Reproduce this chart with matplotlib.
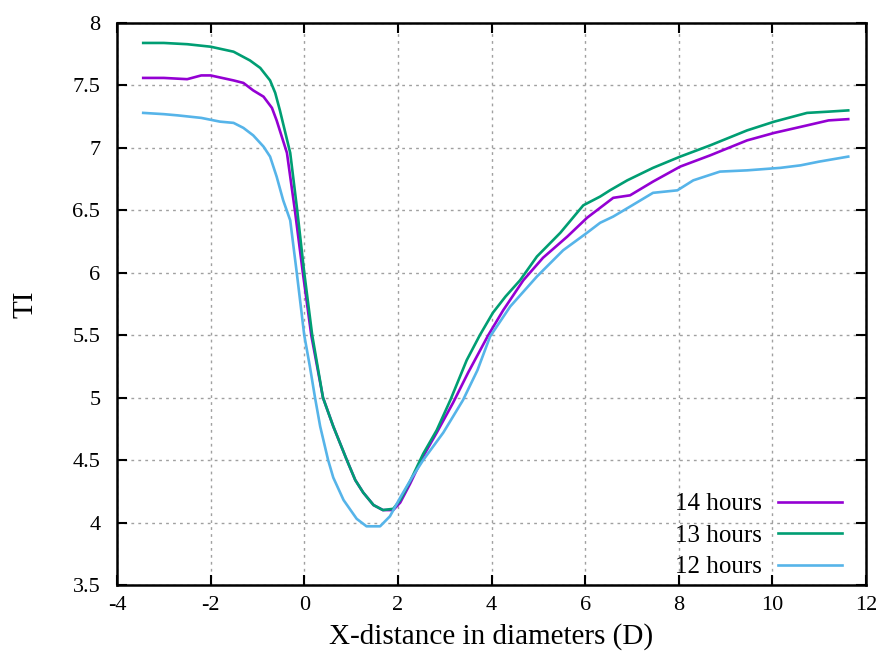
import matplotlib.pyplot as plt

# dados
x14 = [-3.44, -3.0, -2.5, -2.2, -2.0, -1.51, -1.30, -1.09, -0.87, -0.69, -0.59, -0.48, -0.37,
       -0.2, -0.03, 0.15, 0.4, 0.62, 0.91, 1.09, 1.26, 1.48, 1.68, 1.9, 2.05, 2.26, 2.54, 2.83,
       3.18, 3.5, 3.93, 4.25, 4.68, 5.1, 5.62, 6.04, 6.32, 6.6, 6.96, 7.45, 8.03, 8.67, 9.46,
       10.04, 10.74, 11.2, 11.62]
y14 = [7.56, 7.56, 7.55, 7.58, 7.58, 7.54, 7.52, 7.46, 7.41, 7.32, 7.22, 7.09, 6.96,
       6.5, 6.0, 5.5, 5.0, 4.77, 4.5, 4.34, 4.24, 4.14, 4.10, 4.10, 4.16, 4.31, 4.53, 4.72,
       4.96, 5.2, 5.5, 5.70, 5.94, 6.12, 6.29, 6.44, 6.52, 6.60, 6.62, 6.73, 6.85, 6.94, 7.06,
       7.12, 7.18, 7.22, 7.23]

x13 = [-3.44, -3.0, -2.5, -2.0, -1.51, -1.16, -0.94, -0.73, -0.62, -0.52, -0.30, -0.15, 0.0,
       0.17, 0.4, 0.62, 0.91, 1.09, 1.26, 1.48, 1.68, 1.9, 2.05, 2.26, 2.54, 2.83, 3.12, 3.47,
       3.75, 4.03, 4.3, 4.61, 4.97, 5.47, 5.96, 6.32, 6.53, 6.9, 7.45, 8.03, 8.67, 9.46, 10.04,
       10.74, 11.2, 11.62]
y13 = [7.84, 7.84, 7.83, 7.81, 7.77, 7.70, 7.64, 7.54, 7.44, 7.30, 6.96, 6.5, 6.0,
       5.5, 5.0, 4.77, 4.5, 4.34, 4.24, 4.14, 4.10, 4.11, 4.18, 4.33, 4.55, 4.74, 4.98, 5.30,
       5.50, 5.68, 5.81, 5.94, 6.13, 6.32, 6.54, 6.61, 6.66, 6.74, 6.84, 6.93, 7.02, 7.14, 7.21,
       7.28, 7.29, 7.30]

x12 = [-3.44, -3.0, -2.7, -2.2, -1.8, -1.51, -1.30, -1.09, -0.87, -0.73, -0.59, -0.45, -0.30,
       -0.16, 0.0, 0.12, 0.23, 0.34, 0.51, 0.62, 0.84, 1.12, 1.33, 1.62, 1.83, 2.05, 2.3, 2.54,
       2.97, 3.39, 3.7, 3.97, 4.4, 4.97, 5.53, 6.04, 6.32, 6.6, 6.96, 7.45, 7.97, 8.31, 8.88,
       9.46, 10.17, 10.6, 11.0, 11.62]
y12 = [7.28, 7.27, 7.26, 7.24, 7.21, 7.20, 7.16, 7.10, 7.01, 6.93, 6.77, 6.58, 6.42,
       6.0, 5.5, 5.25, 5.0, 4.77, 4.5, 4.36, 4.18, 4.03, 3.97, 3.97, 4.05, 4.2, 4.36, 4.5,
       4.72, 4.98, 5.22, 5.49, 5.73, 5.97, 6.18, 6.32, 6.40, 6.45, 6.53, 6.64, 6.66, 6.74, 6.81,
       6.82, 6.84, 6.86, 6.89, 6.93]

xticks = [-4, -2, 0, 2, 4, 6, 8, 10, 12]
yticks = [3.5, 4, 4.5, 5, 5.5, 6, 6.5, 7, 7.5, 8]
ytick_labels = ['3.5', '4', '4.5', '5', '5.5', '6', '6.5', '7', '7.5', '8']

plt.rcParams['font.family'] = ['Liberation Serif', 'DejaVu Serif']

fig = plt.figure(figsize=(8.81, 6.62), dpi=100)
ax = fig.add_axes([0.1328, 0.1163, 0.8502, 0.849])

ax.plot(x14, y14, color='#9400D3', lw=1.9, label='14 hours')
ax.plot(x13, y13, color='#009E73', lw=1.9, label='13 hours')
ax.plot(x12, y12, color='#56B4E9', lw=1.9, label='12 hours')

ax.set_xlim(-4, 12)
ax.set_ylim(3.5, 8)
ax.set_xticks(xticks)
ax.set_xticklabels([str(t) for t in xticks])
ax.set_yticks(yticks)
ax.set_yticklabels(ytick_labels)
ax.tick_params(direction='in', length=7, width=1.5, top=True, right=True, labelsize=16)
ax.tick_params(axis='x', pad=8)
ax.tick_params(axis='y', pad=12)
for s in ax.spines.values():
    s.set_linewidth(1.8)
ax.grid(True, linestyle=(0, (2, 3)), color='#a0a0a0', linewidth=1)

ax.set_xlabel('X-distance in diameters (D)', fontsize=21, labelpad=6)
ax.set_ylabel('TI', fontsize=21)
ax.yaxis.set_label_coords(-0.105, 0.5)

ax.legend(loc='lower right', bbox_to_anchor=(0.968, 0.012), markerfirst=False, frameon=False,
          fontsize=18, handlelength=2.56, labelspacing=0.36, handletextpad=0.64,
          borderpad=0, borderaxespad=0)

plt.savefig('out.png', dpi=100)
